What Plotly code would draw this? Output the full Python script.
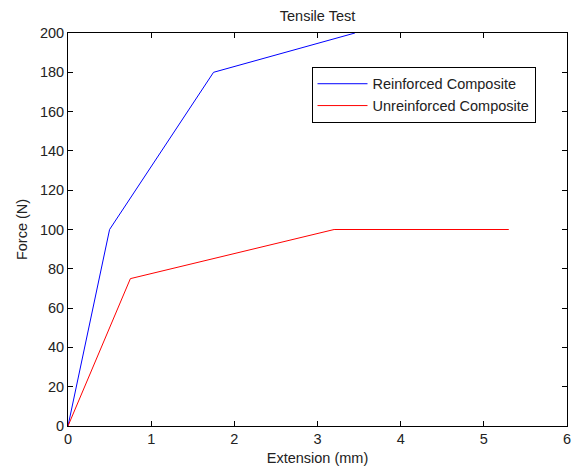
import plotly.graph_objects as go

reinforced_x = [0, 0.5, 1.75, 3.45]
reinforced_y = [0, 100, 180, 200]
unreinforced_x = [0, 0.75, 3.2, 5.3]
unreinforced_y = [0, 75, 100, 100]
x_ticks = [0, 1, 2, 3, 4, 5, 6]
y_ticks = [0, 20, 40, 60, 80, 100, 120, 140, 160, 180, 200]

font = dict(family="Liberation Sans, Arial, sans-serif", size=14.5, color="#222222")

fig = go.Figure()
fig.add_trace(go.Scatter(x=reinforced_x, y=reinforced_y, mode="lines",
                         name="Reinforced Composite", line=dict(color="#0000ff", width=1)))
fig.add_trace(go.Scatter(x=unreinforced_x, y=unreinforced_y, mode="lines",
                         name="Unreinforced Composite", line=dict(color="#ff0000", width=1)))

axis_common = dict(showline=True, linecolor="black", linewidth=1, mirror="ticks",
                   ticks="inside", ticklen=5, tickcolor="black", showgrid=False,
                   zeroline=False, tickfont=font, automargin=False,
                   ticklabeloverflow="allow")

fig.update_layout(
    width=572, height=468,
    margin=dict(l=68, r=5, t=33, b=42),
    paper_bgcolor="white", plot_bgcolor="white",
    font=font,
    title=dict(text="Tensile Test", x=0.5, xref="paper", xanchor="center",
               y=1 - 16 / 468, yanchor="middle", font=font),
    xaxis=dict(range=[0, 6], tickvals=x_ticks,
               title=dict(text="Extension (mm)", font=font, standoff=6), **axis_common),
    yaxis=dict(range=[0, 200], tickvals=y_ticks,
               title=dict(text="Force (N)", font=font, standoff=8), **axis_common),
    legend=dict(x=0.488, y=0.914, xanchor="left", yanchor="top",
                bordercolor="black", borderwidth=1, bgcolor="white", font=font,
                tracegroupgap=0, itemwidth=50),
    showlegend=True,
)

fig.write_html("out.html",
               config={"displayModeBar": False},
               post_script="document.body.style.margin='0';document.body.style.overflow='hidden';")
